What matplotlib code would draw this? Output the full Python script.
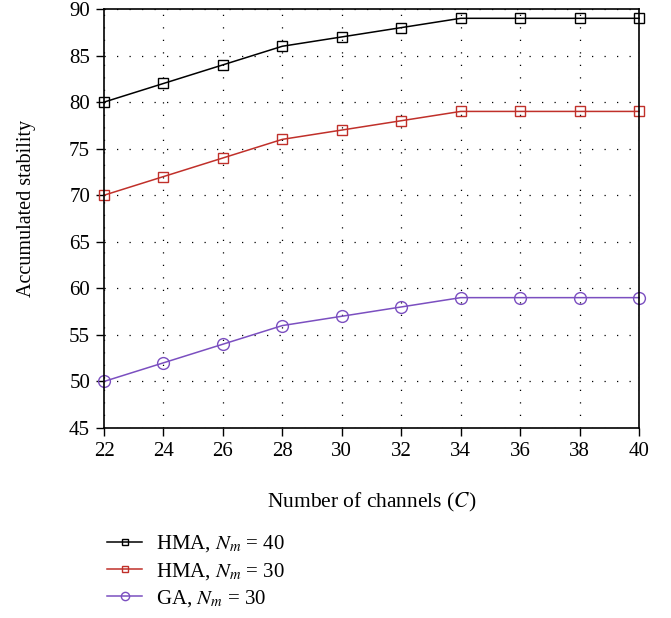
import matplotlib.pyplot as plt
import numpy as np

channels = [22, 24, 26, 28, 30, 32, 34, 36, 38, 40]
hma_40 = [80, 82, 84, 86, 87, 88, 89, 89, 89, 89]
hma_30 = [70, 72, 74, 76, 77, 78, 79, 79, 79, 79]
ga_30 = [50, 52, 54, 56, 57, 58, 59, 59, 59, 59]

plt.rcParams['font.family'] = ['Liberation Serif', 'DejaVu Serif']
plt.rcParams['mathtext.fontset'] = 'stix'

fig = plt.figure(figsize=(6.71, 6.18), dpi=100)
ax = fig.add_axes([104 / 671, 1 - 428 / 618, 535 / 671, 419 / 618])

ax.plot(channels, hma_40, color='black', marker='s', markersize=7, mfc='none',
        lw=1.1, clip_on=False, label='HMA, $N_m$ = 40')
ax.plot(channels, hma_30, color='#c0302a', marker='s', markersize=7, mfc='none',
        lw=1.1, clip_on=False, label='HMA, $N_m$ = 30')
ax.plot(channels, ga_30, color='#7b4fc0', marker='o', markersize=8.5, mfc='none',
        lw=1.1, clip_on=False, label='GA, $N_m$ = 30')

ax.set_xlim(22, 40)
ax.set_ylim(45, 90)
ax.set_xticks(np.arange(22, 41, 2))
ax.set_yticks(np.arange(45, 91, 5))
ax.tick_params(direction='out', length=6, labelsize=15, width=1, pad=4)
ax.grid(True, linestyle=(0, (1, 9)), color='black', linewidth=0.9)
for s in ax.spines.values():
    s.set_linewidth(1.2)

ax.set_xlabel('Number of channels ($C$)', fontsize=15.5, labelpad=22)
ax.set_ylabel('Accumulated stability', fontsize=14.5)
ax.yaxis.set_label_coords(-0.128, 0.523)

ax.legend(loc='upper left', bbox_to_anchor=(-0.01, -0.232), frameon=False,
          fontsize=15, handlelength=1.7, handletextpad=0.65, markerscale=0.7,
          labelspacing=0.3, borderaxespad=0)

fig.savefig('out.png', dpi=100)
